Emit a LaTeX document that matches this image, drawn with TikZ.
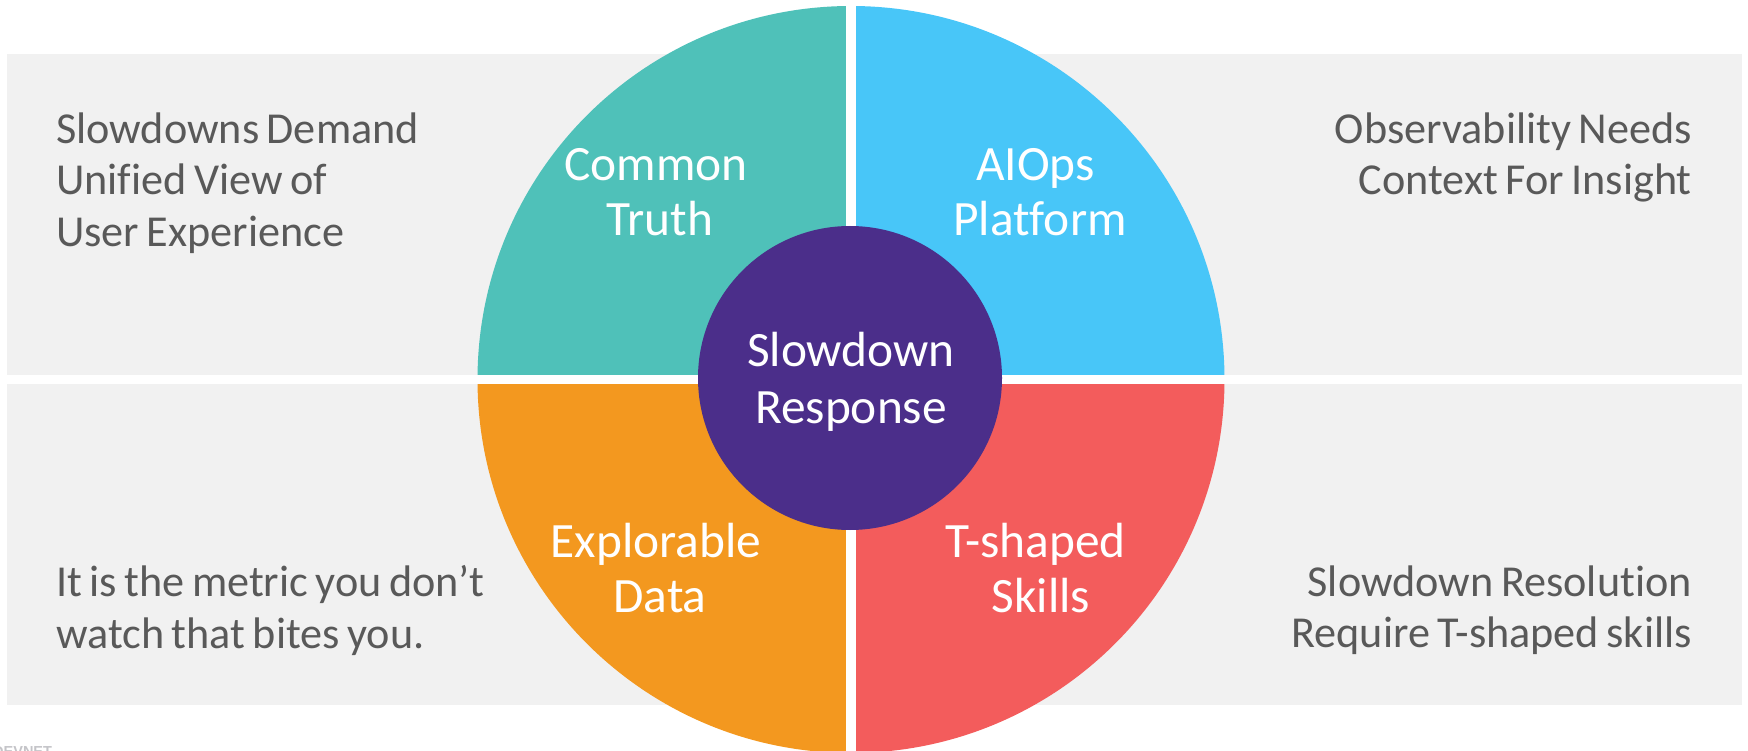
\documentclass[tikz,border=0pt]{standalone}
\usepackage{fontspec}
\setmainfont{Carlito}[Ligatures=NoCommon,WordSpace=0.75]
\newfontfamily\logofont{Liberation Sans}
\definecolor{panelgrey}{HTML}{F1F1F1}
\definecolor{bodygrey}{HTML}{595959}
\definecolor{tealq}{HTML}{4FC1B9}
\definecolor{blueq}{HTML}{48C6F8}
\definecolor{orangeq}{HTML}{F3981F}
\definecolor{redq}{HTML}{F35C5C}
\definecolor{hubpurple}{HTML}{4B2E8A}
\definecolor{logogrey}{HTML}{C4C4C8}
\tikzset{
  x=1pt,y=-1pt,
  panel/.style={fill=panelgrey,draw=none},
  quarter/.style={draw=none},
  sidetext/.style={text=bodygrey,font=\fontsize{44.2}{51.5}\selectfont,inner sep=0pt},
  qtext/.style={text=white,align=center,font=\fontsize{49.4}{55}\selectfont,inner sep=0pt,anchor=center},
  hub/.style={circle,fill=hubpurple,draw=none,minimum size=304pt,inner sep=0pt,text=white,align=center,font=\fontsize{49.4}{56.5}\selectfont}
}
\begin{document}
\begin{tikzpicture}
\useasboundingbox (0,0) rectangle (1748,751);
\begin{scope}
\clip (0,0) rectangle (1748,751);
\coordinate (c) at (851,379.5);
\fill[panel] (7,54) rectangle (1742,375);
\fill[panel] (7,384) rectangle (1742,705);
\fill[quarter,tealq] (c) -- ++(-373.5,0) arc[start angle=180,end angle=90,radius=373.5pt] -- cycle;
\fill[quarter,blueq] (c) -- ++(0,-373.5) arc[start angle=90,end angle=0,radius=373.5pt] -- cycle;
\fill[quarter,orangeq] (c) -- ++(-373.5,0) arc[start angle=180,end angle=270,radius=373.5pt] -- cycle;
\fill[quarter,redq] (c) -- ++(373.5,0) arc[start angle=0,end angle=-90,radius=373.5pt] -- cycle;
\fill[white] (0,375) rectangle (1748,384);
\fill[white] (846,0) rectangle (856,751);
\node[circle,fill=hubpurple,minimum size=304pt,inner sep=0pt] (hubdisc) at (850,378) {};
\node[text=white,align=center,font=\fontsize{49.4}{56.5}\selectfont,inner sep=0pt] (hubnode) at (851,382) {Slowdown\\Response};
\node[qtext] (common) at (660,192) {Common\hspace*{8pt}\\Truth};
\node[qtext] (aiops) at (1040,192) {AIOps\hspace*{9pt}\\Platform};
\node[qtext] (explorable) at (660,568) {Explorable\hspace*{8pt}\\Data};
\node[qtext] (tshaped) at (1041,568) {T-shaped\hspace*{11pt}\\Skills};
\node[sidetext,align=left,anchor=north west] (tl) at (56,112.5) {Slowdowns Demand\\Unified View of\\User Experience};
\node[sidetext,align=right,anchor=north east] (tr) at (1692,112.5) {Observability Needs\\Context For Insight};
\node[sidetext,align=left,anchor=north west] (bl) at (56,565.5) {It is the metric you don’t\\watch that bites you.};
\node[sidetext,align=right,anchor=north east] (br) at (1692,565.5) {Slowdown Resolution\\Require T-shaped skills};
\node[anchor=base west,inner sep=0pt,text=logogrey,font=\logofont\bfseries\fontsize{14.5}{14.5}\selectfont] (logo) at (-7,756) {DEVNET};
\end{scope}
\end{tikzpicture}
\end{document}
